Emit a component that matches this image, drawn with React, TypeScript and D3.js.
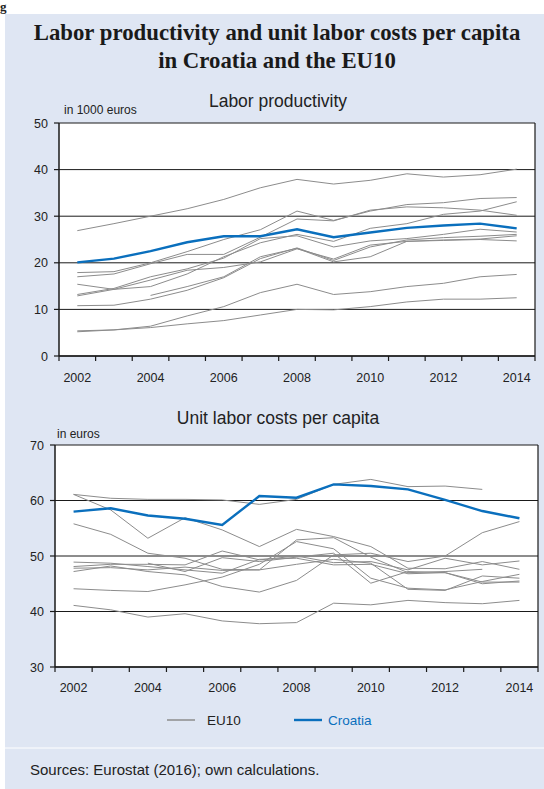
import React from "react";
import * as d3 from "d3";

// ---------- data ----------
const years = [2002, 2003, 2004, 2005, 2006, 2007, 2008, 2009, 2010, 2011, 2012, 2013, 2014];
const yearLabels = [2002, 2004, 2006, 2008, 2010, 2012, 2014];

// Labor productivity, in 1000 euros
const prodTicks = [0, 10, 20, 30, 40, 50];
const prodCroatia = [20.1, 20.9, 22.5, 24.4, 25.7, 25.7, 27.2, 25.5, 26.5, 27.5, 28.0, 28.4, 27.4];
const prodEU1 = [26.9, 28.4, 30.0, 31.6, 33.6, 36.1, 37.9, 36.9, 37.7, 39.1, 38.4, 38.9, 40.1];
const prodEU2 = [17.9, 18.1, 20.0, 22.4, 25.0, 27.1, 31.1, 29.1, 31.1, 32.5, 32.9, 33.8, 34.0];
const prodEU3 = [17.0, 17.6, 19.8, 21.8, 21.8, 25.5, 29.4, 29.0, 31.3, 32.0, 31.8, 31.3, 30.2];
const prodEU4 = [15.4, 14.3, 14.9, 17.6, 21.3, 24.3, 26.1, 24.6, 27.4, 28.4, 30.4, 31.1, 33.1];
const prodEU5 = [13.2, 14.5, 17.0, 18.7, 21.0, 25.2, 25.8, 23.4, 24.7, 25.2, 26.1, 27.2, 26.6];
const prodEU6 = [12.9, 14.3, 16.3, 18.4, 19.0, 20.2, 23.0, 20.8, 23.8, 24.6, 24.8, 25.0, 24.7];
const prodEU7 = [10.8, 10.9, 12.2, 14.1, 16.8, 20.9, 23.2, 20.5, 23.4, 24.9, 25.4, 25.7, 26.1];
const prodEU8 = [5.4, 5.6, 6.4, 8.6, 10.6, 13.6, 15.4, 13.2, 13.8, 14.9, 15.6, 17.0, 17.5];
const prodEU9 = [5.2, 5.6, 6.1, 6.9, 7.6, 8.8, 10.0, 9.9, 10.6, 11.6, 12.2, 12.2, 12.5];
const prodEU10 = [null, null, 13.0, 14.9, 17.0, 21.3, 23.1, 20.2, 21.3, 24.6, 24.9, 25.1, 25.8];

// Unit labor costs per capita, in euros
const ulcTicks = [30, 40, 50, 60, 70];
const ulcCroatia = [58.0, 58.6, 57.3, 56.7, 55.6, 60.8, 60.5, 62.9, 62.6, 62.0, 60.1, 58.1, 56.8];
const ulcEU1 = [61.1, 60.4, 60.2, 60.2, 60.1, 59.3, 60.2, 62.9, 63.8, 62.5, 62.6, 62.0, null];
const ulcEU2 = [61.1, 58.3, 53.2, 56.9, 54.7, 51.7, 54.8, 53.5, 51.7, 47.8, 47.7, 49.0, 47.6];
const ulcEU3 = [55.8, 53.9, 50.5, 49.6, 47.6, 47.5, 52.9, 53.3, 49.8, 47.0, 47.2, 47.6, null];
const ulcEU4 = [44.1, 43.8, 43.6, 44.8, 46.2, 48.5, 52.6, 51.3, 46.0, 44.2, 43.9, 45.4, 46.7];
const ulcEU5 = [47.2, 48.2, 47.2, 46.6, 44.5, 43.5, 45.6, 50.2, 50.5, 49.0, 50.0, 54.2, 56.2];
const ulcEU6 = [48.9, 48.7, 48.1, 47.5, 46.9, 49.4, 49.6, 48.4, 48.5, 46.8, 47.0, 45.3, 45.3];
const ulcEU7 = [48.1, 48.5, 48.5, 48.4, 50.9, 49.3, 50.0, 48.8, 49.0, 47.5, 49.6, 48.4, 49.1];
const ulcEU8 = [47.8, 47.9, 47.5, 48.0, 47.4, 47.5, 48.5, 49.4, 48.7, 44.0, 43.8, 46.4, 46.0];
const ulcEU9 = [41.1, 40.3, 39.0, 39.6, 38.3, 37.8, 38.0, 41.5, 41.2, 42.0, 41.6, 41.4, 42.0];
const ulcEU10 = [null, null, 48.7, 47.2, 49.7, 49.0, 49.8, 50.5, 45.1, 47.2, 47.0, 45.0, 45.5];

const prodEU = [prodEU1, prodEU2, prodEU3, prodEU4, prodEU5, prodEU6, prodEU7, prodEU8, prodEU9, prodEU10];
const ulcEU = [ulcEU1, ulcEU2, ulcEU3, ulcEU4, ulcEU5, ulcEU6, ulcEU7, ulcEU8, ulcEU9, ulcEU10];

// ---------- styles ----------
const BG = "#dfe6f3";
const GRAY = "#8c8c8c";
const BLUE = "#0a6fbd";
const SANS = "Liberation Sans, Arial, sans-serif";
const SERIF = "Liberation Serif, Times New Roman, serif";

type Series = (number | null)[];

function Panel(props: {
  left: number; right: number; top: number; bottom: number;
  domain: [number, number]; ticks: number[];
  eu: Series[]; hr: Series;
  title: string; titleY: number; unit: string; unitX: number; unitY: number;
  labelY: number;
}) {
  const { left, right, top, bottom, domain, ticks, eu, hr } = props;
  const x = d3.scaleBand<number>().domain(years).range([left, right]).paddingInner(0).paddingOuter(0);
  const y = d3.scaleLinear().domain(domain).range([bottom, top]);
  const line = d3
    .line<number | null>()
    .defined((d) => d !== null)
    .x((_, i) => (x(years[i]) as number) + x.bandwidth() / 2)
    .y((d) => y(d as number));
  const boundaries = d3.range(years.length + 1).map((i) => left + i * x.step());
  return (
    <g>
      <rect x={left} y={top} width={right - left} height={bottom - top} fill="#ffffff" />
      {ticks.map((t) => (
        <line key={"g" + t} x1={left} x2={right} y1={y(t)} y2={y(t)} stroke="#1a1a1a" strokeWidth={1} />
      ))}
      {eu.map((s, i) => (
        <path key={"eu" + i} d={line(s) || ""} fill="none" stroke={GRAY} strokeWidth={1} />
      ))}
      <path d={line(hr) || ""} fill="none" stroke={BLUE} strokeWidth={2.4} />
      {/* frame */}
      <line x1={right} x2={right} y1={top} y2={bottom} stroke="#1a1a1a" strokeWidth={1.2} />
      <line x1={left} x2={left} y1={top} y2={bottom} stroke="#1a1a1a" strokeWidth={1.5} />
      <line x1={left} x2={right} y1={bottom} y2={bottom} stroke="#1a1a1a" strokeWidth={1.5} />
      {ticks.map((t) => (
        <g key={"yt" + t}>
          <line x1={left - 5} x2={left} y1={y(t)} y2={y(t)} stroke="#1a1a1a" strokeWidth={1.2} />
          <text x={left - 11} y={y(t) + 4.5} textAnchor="end" fontFamily={SANS} fontSize={12.5} fill="#222">
            {t}
          </text>
        </g>
      ))}
      {boundaries.map((bx, i) => (
        <line key={"xt" + i} x1={bx} x2={bx} y1={bottom} y2={bottom + 5} stroke="#1a1a1a" strokeWidth={1.2} />
      ))}
      {yearLabels.map((yr) => (
        <text
          key={"xl" + yr}
          x={(x(yr) as number) + x.bandwidth() / 2}
          y={props.labelY}
          textAnchor="middle"
          fontFamily={SANS}
          fontSize={12.5}
          fill="#222"
        >
          {yr}
        </text>
      ))}
      <text x={278} y={props.titleY} textAnchor="middle" fontFamily={SANS} fontSize={17.5} fill="#222">
        {props.title}
      </text>
      <text x={props.unitX} y={props.unitY} fontFamily={SANS} fontSize={12} fill="#222">
        {props.unit}
      </text>
    </g>
  );
}

export default function App() {
  return (
    <svg
      width={544}
      height={789}
      style={{ position: "absolute", left: 0, top: 0, display: "block" }}
    >
      <rect x={0} y={0} width={544} height={789} fill="#ffffff" />
      <text x={0} y={11} fontFamily={SERIF} fontWeight="bold" fontSize={13} fill="#222">g</text>
      <rect x={5} y={14} width={539} height={775} fill={BG} />
      <text x={277} y={40} textAnchor="middle" fontFamily={SERIF} fontWeight="bold" fontSize={22.8} fill="#1a1a1a">
        Labor productivity and unit labor costs per capita
      </text>
      <text x={277} y={68} textAnchor="middle" fontFamily={SERIF} fontWeight="bold" fontSize={22.8} fill="#1a1a1a">
        in Croatia and the EU10
      </text>

      <Panel
        left={59} right={535} top={123} bottom={356}
        domain={[0, 50]} ticks={prodTicks}
        eu={prodEU} hr={prodCroatia}
        title="Labor productivity" titleY={107}
        unit="in 1000 euros" unitX={64} unitY={114}
        labelY={382}
      />
      <Panel
        left={55} right={538} top={445} bottom={667}
        domain={[30, 70]} ticks={ulcTicks}
        eu={ulcEU} hr={ulcCroatia}
        title="Unit labor costs per capita" titleY={424}
        unit="in euros" unitX={57} unitY={438}
        labelY={692}
      />

      {/* legend */}
      <line x1={167} x2={195} y1={720} y2={720} stroke={GRAY} strokeWidth={1.5} />
      <text x={207} y={725} fontFamily={SANS} fontSize={13.5} fill="#222">EU10</text>
      <line x1={294} x2={322} y1={720} y2={720} stroke={BLUE} strokeWidth={2.4} />
      <text x={328} y={725} fontFamily={SANS} fontSize={13.5} fill="#0a6fbd">Croatia</text>

      <line x1={5} x2={544} y1={748} y2={748} stroke="#ffffff" strokeWidth={1} />
      <text x={30} y={775} fontFamily={SANS} fontSize={15} fill="#222">
        Sources: Eurostat (2016); own calculations.
      </text>
    </svg>
  );
}
